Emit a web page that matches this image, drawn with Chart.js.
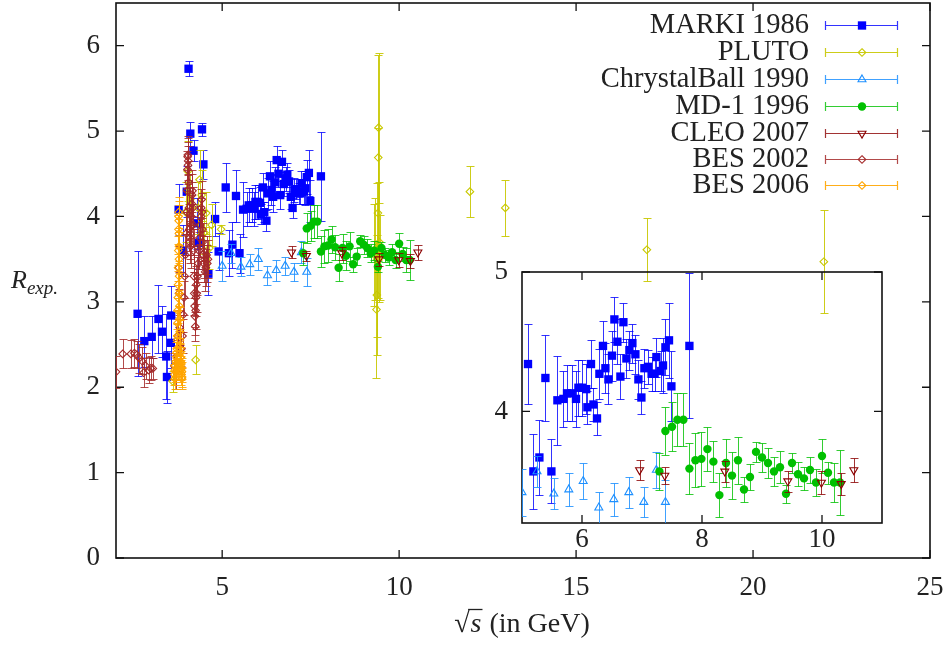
<!DOCTYPE html>
<html><head><meta charset="utf-8">
<script src="https://cdn.jsdelivr.net/npm/chart.js@4.4.1/dist/chart.umd.min.js"></script>
<style>
html,body{margin:0;padding:0;background:#fff;}
#wrap{position:relative;width:951px;height:645px;overflow:hidden;}
#main{position:absolute;left:0;top:0;}
#inset{position:absolute;left:470px;top:255px;}
</style></head><body>
<div id="wrap"><canvas id="main" width="951" height="645"></canvas><canvas id="inset" width="430" height="305"></canvas></div>
<script>
// ---------------- data ----------------
const legendLabels = ['MARKI 1986','PLUTO','ChrystalBall 1990','MD-1 1996','CLEO 2007','BES 2002','BES 2006'];
const xTicksMain = [5,10,15,20,25];
const yTicksMain = [0,1,2,3,4,5,6];
const xTicksInset = [6,8,10];
const yTicksInset = [4,5];

const markiX = [2.61,2.80,3.01,3.20,3.30,3.42,3.44,3.55,3.56,3.77,3.90,4.00,4.05,4.10,4.19,4.29,4.33,4.43,4.47,4.61,4.80,4.90,
  5.10,5.19,5.29,5.39,5.49,5.59,5.69,5.75,5.83,5.90,5.94,6.00,6.07,6.09,6.15,6.19,6.25,6.29,6.35,6.39,6.44,6.50,6.54,6.59,6.64,6.69,6.74,6.79,6.84,6.89,6.94,6.99,7.04,7.10,7.16,7.21,7.24,7.31,7.35,7.39,7.45,7.49,7.79];
const markiY = [2.86,2.54,2.59,2.80,2.65,2.36,2.12,2.52,2.84,4.08,3.60,4.29,5.73,4.97,4.77,3.92,3.69,5.02,4.61,3.33,3.97,3.59,
  4.34,3.57,3.67,4.24,3.57,4.08,4.09,4.13,4.13,4.09,4.17,4.17,4.16,4.03,4.34,4.05,3.95,4.27,4.47,4.31,4.23,4.40,4.66,4.50,4.25,4.64,4.38,4.44,4.49,4.41,4.23,4.10,4.31,4.32,4.27,4.27,4.39,4.29,4.33,4.46,4.51,4.18,4.47];
const markiErr = [0.73,0.30,0.25,0.40,0.30,0.50,0.30,0.30,0.35,0.30,0.30,0.30,0.09,0.14,0.12,0.30,0.30,0.08,0.17,0.25,0.20,0.22,
  0.29,0.27,0.27,0.31,0.23,0.32,0.20,0.20,0.20,0.20,0.20,0.20,0.18,0.12,0.17,0.12,0.12,0.18,0.18,0.18,0.18,0.18,0.16,0.16,0.16,0.14,0.14,0.14,0.14,0.14,0.14,0.12,0.14,0.12,0.12,0.12,0.14,0.14,0.20,0.20,0.27,0.25,0.52];

const plutoX = [3.60,3.97,4.03,4.10,4.25,4.32,4.36,4.42,4.50,4.55,4.64,4.70,4.97,
  9.30,9.33,9.36,9.37,9.38,9.40,9.41,9.42,9.44,9.46,12.0,13.0,17.0,22.0];
const plutoY = [2.07,4.05,4.53,4.20,2.32,4.10,4.43,4.25,3.81,4.04,3.63,3.90,3.85,
  3.55,3.62,2.91,3.08,3.49,4.04,4.69,5.04,3.70,3.52,4.29,4.10,3.61,3.47];
const plutoErr = [0.12,0.35,0.35,0.30,0.17,0.30,0.35,0.30,0.25,0.25,0.25,0.25,0.05,
  0.60,0.60,0.80,0.70,0.90,1.00,1.20,0.88,0.70,0.50,0.30,0.33,0.37,0.60];

const cbX = [5.00,5.25,5.53,5.78,6.02,6.28,6.53,6.78,7.03,7.24,7.39];
const cbY = [3.42,3.57,3.41,3.44,3.50,3.31,3.37,3.42,3.35,3.58,3.35];
const cbErr = [0.17,0.11,0.11,0.12,0.13,0.11,0.12,0.11,0.11,0.13,0.16];

const md1X = [7.29,7.39,7.50,7.59,7.69,7.79,7.89,7.99,8.09,8.19,8.29,8.40,8.50,8.60,8.70,8.80,8.90,9.00,9.10,9.20,9.30,9.40,9.50,9.60,9.70,9.80,9.90,10.00,10.10,10.20,10.30];
const md1Y = [3.57,3.86,3.89,3.94,3.94,3.59,3.65,3.66,3.73,3.64,3.40,3.63,3.54,3.65,3.44,3.53,3.71,3.67,3.63,3.57,3.60,3.41,3.63,3.55,3.52,3.58,3.49,3.68,3.56,3.49,3.49];
const md1Err = [0.135,0.175,0.175,0.19,0.19,0.185,0.195,0.195,0.155,0.145,0.16,0.17,0.17,0.17,0.09,0.095,0.07,0.105,0.11,0.105,0.115,0.065,0.075,0.085,0.085,0.095,0.095,0.125,0.08,0.14,0.235];

const cleoX = [6.96,7.38,8.38,9.43,9.99,10.32,10.53];
const cleoY = [3.58,3.54,3.57,3.50,3.49,3.48,3.58];
const cleoErr = [0.07,0.06,0.075,0.075,0.08,0.08,0.085];

const bes02X = [2.00,2.19,2.42,2.52,2.59,2.66,2.73,2.78,2.84,2.92,2.98,3.04,
  3.65,3.70,3.73,3.75,3.77,3.78,3.80,3.85,3.88,3.90,3.92,3.94,3.96,3.98,4.00,4.01,4.02,4.025,4.03,4.035,4.04,4.05,4.06,4.07,4.08,4.09,4.10,4.11,4.12,4.13,4.14,4.15,4.16,4.17,4.18,4.19,4.20,4.21,4.22,4.23,4.24,4.25,4.26,4.27,4.28,4.30,4.32,4.34,4.36,4.38,4.40,4.41,4.42,4.43,4.44,4.45,4.46,4.48,4.50,4.52,4.54,4.56,4.58,4.60];
const bes02Y = [2.18,2.39,2.39,2.40,2.38,2.34,2.31,2.17,2.25,2.20,2.22,2.22,
  2.25,2.18,2.35,2.60,3.40,3.10,2.70,2.45,2.60,2.85,3.05,3.30,3.55,3.80,4.05,4.30,4.55,4.70,4.72,4.60,4.65,4.40,4.10,3.85,3.70,3.75,3.80,3.65,3.90,4.00,4.15,4.25,4.30,4.10,3.90,3.60,3.30,3.10,2.95,2.83,2.71,2.90,3.05,3.20,3.10,3.30,3.45,3.60,3.75,3.90,4.00,4.10,4.20,4.05,3.85,3.70,3.55,3.45,3.50,3.35,3.40,3.55,3.45,3.50];
const bes02Err = [0.19,0.17,0.16,0.16,0.16,0.17,0.16,0.17,0.15,0.15,0.14,0.12,
  0.15,0.20,0.20,0.20,0.25,0.25,0.20,0.20,0.20,0.20,0.20,0.25,0.25,0.25,0.25,0.25,0.22,0.22,0.22,0.22,0.22,0.25,0.25,0.25,0.25,0.25,0.25,0.25,0.25,0.25,0.25,0.25,0.25,0.25,0.25,0.25,0.25,0.25,0.25,0.22,0.17,0.22,0.22,0.22,0.22,0.22,0.22,0.22,0.22,0.22,0.22,0.22,0.22,0.22,0.22,0.22,0.22,0.22,0.22,0.22,0.22,0.22,0.22,0.22];

const bes06X = [3.650,3.660,3.665,3.670,3.680,3.690,3.700,3.705,3.710,3.715,3.720,3.725,3.730,3.735,3.740,3.745,3.750,3.755,3.760,3.765,3.768,3.770,3.772,3.775,3.778,3.780,3.783,3.786,3.790,3.795,3.800,3.805,3.810,3.815,3.820,3.825,3.830,3.835,3.840,3.845,3.850,3.855,3.860,3.865,3.870];
const bes06Y = [2.15,2.20,2.10,2.25,2.18,2.30,2.22,2.40,2.28,2.45,2.35,2.55,2.60,2.75,2.90,3.05,3.20,3.40,3.60,3.85,4.00,4.05,3.95,3.80,3.65,3.50,3.30,3.10,2.95,2.80,2.65,2.55,2.45,2.35,2.40,2.30,2.25,2.35,2.20,2.28,2.15,2.22,2.10,2.18,2.12];
const bes06Err = [0.12,0.12,0.12,0.12,0.12,0.12,0.12,0.13,0.12,0.13,0.12,0.13,0.14,0.14,0.15,0.15,0.16,0.16,0.17,0.17,0.18,0.18,0.18,0.17,0.17,0.16,0.16,0.15,0.15,0.14,0.14,0.13,0.13,0.12,0.12,0.12,0.12,0.12,0.12,0.12,0.12,0.12,0.12,0.12,0.12];

// ---------------- styles ----------------
const SERIF = '"Liberation Serif", "DejaVu Serif", serif';
const styles = [
  {style:'rect', r:5.9, color:'#0000ff', err:'rgba(0,0,255,0.8)', fill:true, rot:0},
  {style:'rectRot', r:3.8, color:'#c8c800', err:'rgba(200,200,0,0.9)', fill:false, rot:0},
  {style:'triangle', r:4.6, color:'#1e90ff', err:'rgba(30,144,255,0.85)', fill:false, rot:0},
  {style:'circle', r:4.2, color:'#00c000', err:'rgba(0,192,0,0.8)', fill:true, rot:0},
  {style:'triangle', r:4.6, color:'#8b0000', err:'rgba(139,0,0,0.8)', fill:false, rot:180},
  {style:'rectRot', r:3.8, color:'#a52a2a', err:'rgba(165,42,42,0.85)', fill:false, rot:0},
  {style:'rectRot', r:3.8, color:'#ffa500', err:'rgba(255,165,0,0.9)', fill:false, rot:0}
];

function makeDs(idx, xs, ys, es) {
  const s = styles[idx];
  return {
    label: legendLabels[idx],
    data: xs.map((x, i) => ({x: x, y: ys[i]})),
    err: es,
    errColor: s.err,
    showLine: false,
    pointStyle: s.style,
    pointRadius: s.r,
    pointRotation: s.rot,
    pointBackgroundColor: s.fill ? s.color : 'rgba(0,0,0,0)',
    pointBorderColor: s.color,
    pointBorderWidth: s.fill ? 0 : 1.1,
    order: 10 - idx
  };
}

// ---------------- plugins ----------------
const errPlugin = {
  id: 'errbars',
  beforeDatasetDraw(chart, args) {
    const ds = chart.data.datasets[args.index];
    if (!ds.err) return;
    const {ctx, chartArea: a} = chart;
    const xs = chart.scales.x, ys = chart.scales.y;
    const cap = 4;
    ctx.save();
    ctx.beginPath(); ctx.rect(a.left, a.top, a.right - a.left, a.bottom - a.top); ctx.clip();
    ctx.strokeStyle = ds.errColor; ctx.lineWidth = 1;
    ctx.beginPath();
    ds.data.forEach((p, i) => {
      const px = Math.round(xs.getPixelForValue(p.x)) + 0.5;
      const y1 = Math.round(ys.getPixelForValue(p.y + ds.err[i])) + 0.5;
      const y2 = Math.round(ys.getPixelForValue(p.y - ds.err[i])) + 0.5;
      ctx.moveTo(px, y1); ctx.lineTo(px, y2);
      ctx.moveTo(px - cap, y1); ctx.lineTo(px + cap, y1);
      ctx.moveTo(px - cap, y2); ctx.lineTo(px + cap, y2);
    });
    ctx.stroke();
    ctx.restore();
  }
};

const framePlugin = {
  id: 'frame',
  beforeDatasetsDraw(chart) {
    const {ctx, chartArea: a} = chart;
    const xs = chart.scales.x, ys = chart.scales.y;
    const tl = 8;
    ctx.save();
    ctx.strokeStyle = '#111'; ctx.lineWidth = 1.3;
    ctx.beginPath();
    xs.ticks.forEach(t => { const px = xs.getPixelForValue(t.value);
      ctx.moveTo(px, a.bottom); ctx.lineTo(px, a.bottom - tl);
      ctx.moveTo(px, a.top); ctx.lineTo(px, a.top + tl); });
    ys.ticks.forEach(t => { const py = ys.getPixelForValue(t.value);
      ctx.moveTo(a.left, py); ctx.lineTo(a.left + tl, py);
      ctx.moveTo(a.right, py); ctx.lineTo(a.right - tl, py); });
    ctx.stroke();
    ctx.lineWidth = 1.6;
    ctx.strokeRect(a.left, a.top, a.right - a.left, a.bottom - a.top);
    ctx.restore();
  }
};

function drawMarker(ctx, s, x, y) {
  ctx.save();
  ctx.fillStyle = s.color; ctx.strokeStyle = s.color; ctx.lineWidth = 1.1;
  ctx.beginPath();
  const r = s.r;
  if (s.style === 'rect') { const h = r * Math.SQRT1_2; ctx.rect(x - h, y - h, 2*h, 2*h); }
  else if (s.style === 'circle') { ctx.arc(x, y, r, 0, Math.PI * 2); }
  else if (s.style === 'rectRot') { ctx.moveTo(x, y - r); ctx.lineTo(x + r, y); ctx.lineTo(x, y + r); ctx.lineTo(x - r, y); ctx.closePath(); }
  else if (s.style === 'triangle') {
    const sg = s.rot ? -1 : 1;
    ctx.moveTo(x, y - sg * r);
    ctx.lineTo(x + r * 0.866, y + sg * r * 0.5);
    ctx.lineTo(x - r * 0.866, y + sg * r * 0.5);
    ctx.closePath();
  }
  if (s.fill) ctx.fill(); else ctx.stroke();
  ctx.restore();
}

const legendPlugin = {
  id: 'gpLegend',
  afterDraw(chart) {
    const ctx = chart.ctx;
    const ys = [25, 52, 79, 106, 133, 159, 185];
    ctx.save();
    ctx.font = '28.5px ' + SERIF;
    ctx.textAlign = 'right'; ctx.textBaseline = 'middle';
    legendLabels.forEach((lab, i) => {
      const y = ys[i]; const s = styles[i];
      ctx.fillStyle = '#222';
      ctx.fillText(lab, 809, y + 1);
      ctx.strokeStyle = s.err; ctx.lineWidth = 1.2;
      ctx.beginPath();
      ctx.moveTo(825, y + 0.5); ctx.lineTo(898, y + 0.5);
      ctx.moveTo(825.5, y - 4); ctx.lineTo(825.5, y + 5);
      ctx.moveTo(897.5, y - 4); ctx.lineTo(897.5, y + 5);
      ctx.stroke();
      drawMarker(ctx, s, 862, y + 0.5);
    });
    ctx.restore();
  }
};

const titlePlugin = {
  id: 'axisTitles',
  afterDraw(chart) {
    const ctx = chart.ctx;
    ctx.save();
    ctx.fillStyle = '#222'; ctx.strokeStyle = '#222';
    ctx.textBaseline = 'alphabetic'; ctx.textAlign = 'left';
    const f = '28px ' + SERIF, fi = 'italic 28px ' + SERIF;
    ctx.font = f; const wR = ctx.measureText('\u221A').width; const wT = ctx.measureText(' (in GeV)').width;
    ctx.font = fi; const wS = ctx.measureText('s').width;
    const total = wR + wS + 2 + wT;
    const x0 = 522 - total / 2; const base = 632;
    ctx.font = f; ctx.fillText('\u221A', x0, base);
    ctx.font = fi; ctx.fillText('s', x0 + wR + 1, base);
    ctx.lineWidth = 1.3; ctx.beginPath(); ctx.moveTo(x0 + wR - 1.5, 609.5); ctx.lineTo(x0 + wR + wS + 2, 609.5); ctx.stroke();
    ctx.font = f; ctx.fillText(' (in GeV)', x0 + wR + wS + 2, base);
    ctx.font = 'italic 26px ' + SERIF; ctx.fillText('R', 11, 288);
    const wRR = ctx.measureText('R').width;
    ctx.font = 'italic 19px ' + SERIF; ctx.fillText('exp.', 11 + wRR, 294);
    ctx.restore();
  }
};

const tickFont = {family: SERIF, size: 27};
const fixTicks = list => (scale => { scale.ticks = list.map(v => ({value: v, label: String(v)})); });
const fitY = w => (s => { s.width = w; s.paddingTop = 0; s.paddingBottom = 0; });
const fitX = h => (s => { s.height = h; s.paddingLeft = 0; s.paddingRight = 0; });

// ---------------- main chart ----------------
new Chart(document.getElementById('main'), {
  type: 'scatter',
  data: { datasets: [
    makeDs(0, markiX, markiY, markiErr),
    makeDs(1, plutoX, plutoY, plutoErr),
    makeDs(2, cbX, cbY, cbErr),
    makeDs(3, md1X, md1Y, md1Err),
    makeDs(4, cleoX, cleoY, cleoErr),
    makeDs(5, bes02X, bes02Y, bes02Err),
    makeDs(6, bes06X, bes06Y, bes06Err)
  ]},
  options: {
    responsive: false, animation: false, events: [],
    layout: { autoPadding: false, padding: { left: 0, right: 21, top: 3, bottom: 0 } },
    plugins: { legend: {display: false}, tooltip: {enabled: false} },
    scales: {
      x: { type: 'linear', min: 2, max: 25,
        ticks: { font: tickFont, color: '#222', padding: 14, maxRotation: 0 },
        afterBuildTicks: fixTicks(xTicksMain),
        grid: { display: false, drawTicks: false }, border: { display: false },
        afterFit: fitX(87) },
      y: { type: 'linear', min: 0, max: 6.5,
        ticks: { font: tickFont, color: '#222', padding: 16 },
        afterBuildTicks: fixTicks(yTicksMain),
        grid: { display: false, drawTicks: false }, border: { display: false },
        afterFit: fitY(116) }
    }
  },
  plugins: [errPlugin, framePlugin, legendPlugin, titlePlugin]
});

// ---------------- inset chart ----------------
new Chart(document.getElementById('inset'), {
  type: 'scatter',
  data: { datasets: [
    makeDs(0, markiX, markiY, markiErr),
    makeDs(2, cbX, cbY, cbErr),
    makeDs(3, md1X, md1Y, md1Err),
    makeDs(4, cleoX, cleoY, cleoErr)
  ]},
  options: {
    responsive: false, animation: false, events: [],
    layout: { autoPadding: false, padding: { left: 0, right: 18, top: 17, bottom: 0 } },
    plugins: { legend: {display: false}, tooltip: {enabled: false} },
    scales: {
      x: { type: 'linear', min: 5, max: 11,
        ticks: { font: tickFont, color: '#222', padding: 1, maxRotation: 0 },
        afterBuildTicks: fixTicks(xTicksInset),
        grid: { display: false, drawTicks: false }, border: { display: false },
        afterFit: fitX(37) },
      y: { type: 'linear', min: 3.2, max: 5,
        ticks: { font: tickFont, color: '#222', padding: 14 },
        afterBuildTicks: fixTicks(yTicksInset),
        grid: { display: false, drawTicks: false }, border: { display: false },
        afterFit: fitY(52) }
    }
  },
  plugins: [errPlugin, framePlugin]
});
</script>
</body></html>
